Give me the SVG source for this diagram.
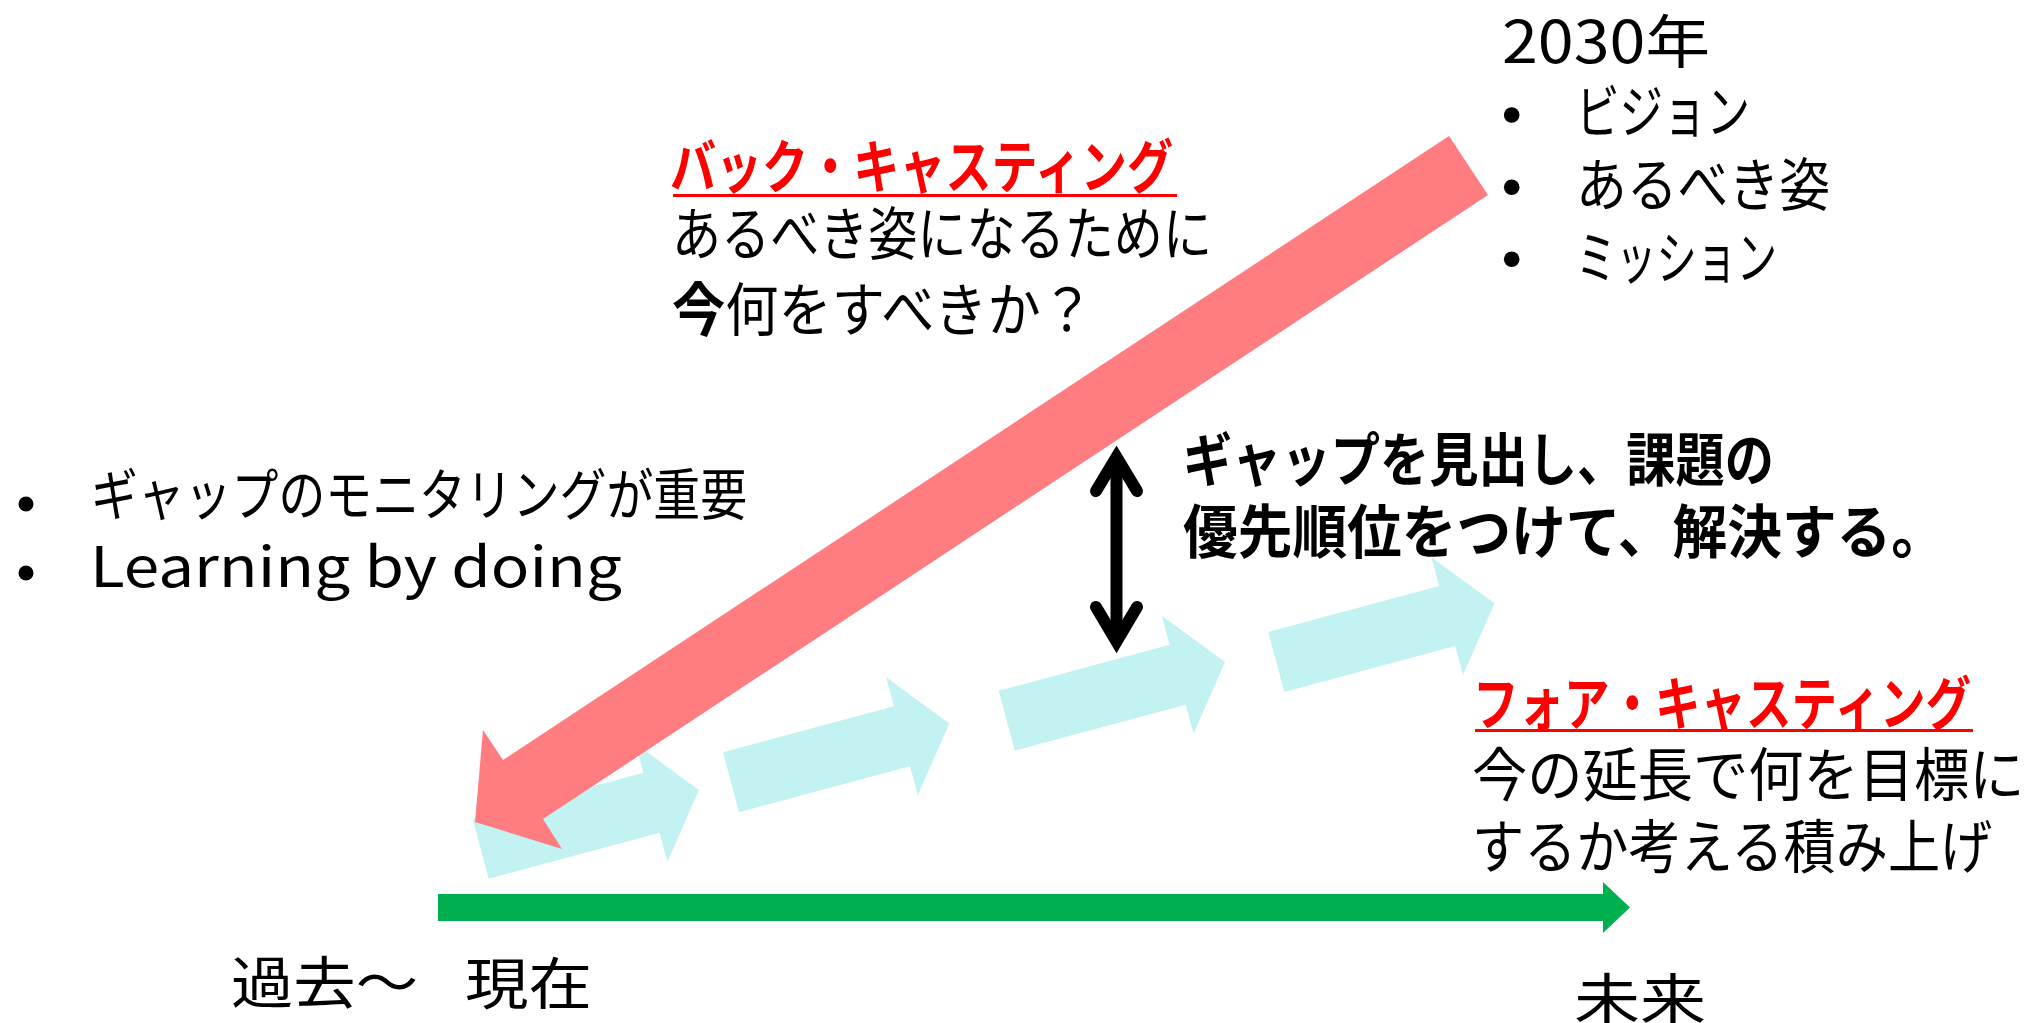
<svg xmlns="http://www.w3.org/2000/svg" xmlns:xlink="http://www.w3.org/1999/xlink" width="2033" height="1023" viewBox="0 0 2033 1023">
  <style>
    .t { font-family: "Noto Sans CJK JP", "Noto Sans", sans-serif; font-size: 58px; fill: #000000; }
    .b { font-weight: bold; }
    .red { fill: #FF0000; font-weight: bold; }
    .cy { fill: #C3F2F3; }
    .dot { fill: #000000; }
  </style>
  <defs>
    <polygon id="cyArrow" class="cy" points="-226,-31 -49,-31 -49,-61 0,0 -49,61 -49,31 -226,31"/>
  </defs>
  <rect x="0" y="0" width="2033" height="1023" fill="#FFFFFF"/>

  <g id="connectors">
    <g id="forecast-steps">
      <use xlink:href="#cyArrow" transform="translate(698.9,790) rotate(-15.06)"/>
      <use xlink:href="#cyArrow" transform="translate(949.3,723.5) rotate(-15.06)"/>
      <use xlink:href="#cyArrow" transform="translate(1225,662) rotate(-15.06)"/>
      <use xlink:href="#cyArrow" transform="translate(1494.5,603.3) rotate(-15.06)"/>
    </g>
    <polygon id="backcast-arrow" fill="#FF7C80" points="1449,136 1488,195 543,819 562,849 475,822 483,730 503,760"/>
    <polygon id="time-axis" fill="#00B050" points="438,894 1603,894 1603,882 1630,907.5 1603,933 1603,921 438,921"/>
    <g id="gap-arrow" stroke="#000000" stroke-width="12" fill="none">
      <line x1="1116.5" y1="457" x2="1116.5" y2="641.5" stroke-linecap="butt"/>
      <polyline points="1096,491 1116.5,457 1137,491" stroke-linejoin="miter" stroke-miterlimit="10" stroke-linecap="round"/>
      <polyline points="1096,607 1116.5,641.5 1137,607" stroke-linejoin="miter" stroke-miterlimit="10" stroke-linecap="round"/>
    </g>
  </g>

  <g id="vision-2030">
    <text class="t" x="1502" y="63" textLength="208" lengthAdjust="spacingAndGlyphs">2030年</text>
    <circle class="dot" cx="1511.7" cy="115" r="7.8"/>
    <text class="t" x="1576" y="133" textLength="174" lengthAdjust="spacingAndGlyphs">ビジョン</text>
    <circle class="dot" cx="1511.7" cy="187.3" r="7.8"/>
    <text class="t" x="1576" y="206" textLength="254" lengthAdjust="spacingAndGlyphs">あるべき姿</text>
    <circle class="dot" cx="1511.7" cy="259.3" r="7.8"/>
    <text class="t" x="1576" y="279" textLength="201" lengthAdjust="spacingAndGlyphs">ミッション</text>
  </g>

  <g id="backcasting-label">
    <text class="t red" x="670" y="188" textLength="503" lengthAdjust="spacingAndGlyphs">バック・キャスティング</text>
    <rect x="673" y="194" width="504" height="3" fill="#FF0000"/>
    <text class="t" x="672" y="255" textLength="540" lengthAdjust="spacingAndGlyphs">あるべき姿になるために</text>
    <text class="t" x="672" y="331" textLength="422" lengthAdjust="spacingAndGlyphs"><tspan font-weight="bold">今</tspan>何をすべきか？</text>
  </g>

  <g id="gap-label">
    <text class="t b" x="1183" y="481" textLength="591" lengthAdjust="spacingAndGlyphs">ギャップを見出し、課題の</text>
    <text class="t b" x="1183" y="553" textLength="763" lengthAdjust="spacingAndGlyphs">優先順位をつけて、解決する。</text>
  </g>

  <g id="monitoring-notes">
    <circle class="dot" cx="26" cy="504" r="7.5"/>
    <text class="t" style="font-size:56px" x="91" y="515" textLength="656" lengthAdjust="spacingAndGlyphs">ギャップのモニタリングが重要</text>
    <circle class="dot" cx="26" cy="573" r="7.5"/>
    <text class="t" style="font-size:56px" x="90" y="587" textLength="532" lengthAdjust="spacingAndGlyphs">Learning by doing</text>
  </g>

  <g id="forecasting-label">
    <text class="t red" transform="translate(1473,725) scale(0.785,1)" x="0" y="0">フォア・キャスティング</text>
    <rect x="1475" y="729" width="498" height="3" fill="#FF0000"/>
    <text class="t" transform="translate(1472,796) scale(0.953,1)" x="0" y="0">今の延長で何を目標に</text>
    <text class="t" transform="translate(1472,868) scale(0.9,1)" x="0" y="0">するか考える積み上げ</text>
  </g>

  <g id="label-past">
    <text class="t" style="font-size:56px" x="231" y="1003" textLength="187" lengthAdjust="spacingAndGlyphs">過去～</text>
  </g>
  <g id="label-present">
    <text class="t" style="font-size:56px" x="465" y="1004" textLength="127" lengthAdjust="spacingAndGlyphs">現在</text>
  </g>
  <g id="label-future">
    <text class="t" style="font-size:56px" x="1574" y="1020" textLength="132" lengthAdjust="spacingAndGlyphs">未来</text>
  </g>
</svg>
